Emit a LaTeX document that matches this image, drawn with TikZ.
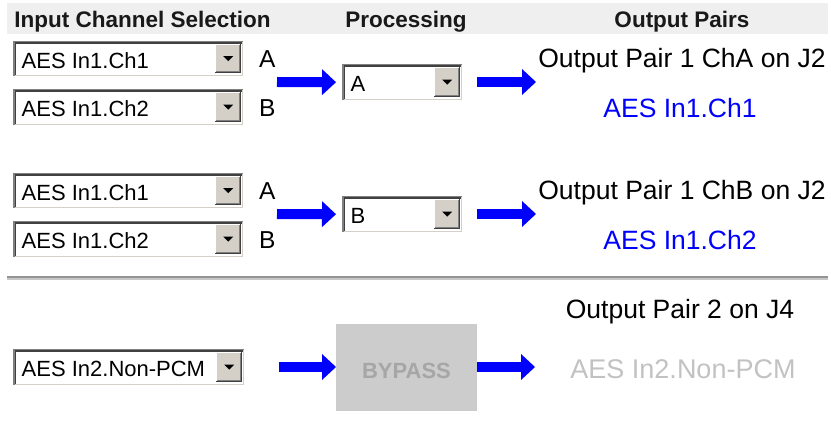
\documentclass[tikz,border=0pt]{standalone}
\usepackage{fontspec}
\setmainfont{Liberation Sans}
\usetikzlibrary{arrows.meta,calc}

\definecolor{hdrfill}{HTML}{EFEFEF}
\definecolor{btnface}{HTML}{D4D0C8}
\definecolor{framedark}{HTML}{404040}
\definecolor{framemid}{HTML}{808080}
\definecolor{flowblue}{HTML}{0000FF}
\definecolor{bypassfill}{HTML}{CCCCCC}
\definecolor{bypasstext}{HTML}{A6A6A6}
\definecolor{dimtext}{HTML}{C2C2C2}

% combo box: name, left, top, width, height, text
\newcommand\combobox[6]{%
  \node[combobody, minimum width=#4pt, minimum height=#5pt, anchor=north west] (#1) at (#2,#3) {};
  % sunken frame
  \draw[framemid, line width=1.5pt] ($(#1.south west)+(0.75,0)$) -- ($(#1.north west)+(0.75,0.75)$) -- ($(#1.north east)+(0,0.75)$);
  \draw[framedark, line width=1.5pt] ($(#1.south west)+(2.25,-1.5)$) -- ($(#1.north west)+(2.25,2.25)$) -- ($(#1.north east)+(-1.5,2.25)$);
  \draw[btnface, line width=1.5pt] ($(#1.south west)+(1.5,-0.75)$) -- ($(#1.south east)+(-0.75,-0.75)$) -- ($(#1.north east)+(-0.75,1.5)$);
  % drop-down button
  \node[combobtn, minimum width=26pt, minimum height={#5pt-6pt}, anchor=north east] (#1btn) at ($(#1.north east)+(-2,3)$) {};
  \draw[white, line width=1pt] ($(#1btn.south west)+(0.5,-1)$) -- ($(#1btn.north west)+(0.5,0.5)$) -- ($(#1btn.north east)+(-1,0.5)$);
  \draw[framedark, line width=1.2pt] ($(#1btn.south west)+(0,-0.6)$) -- ($(#1btn.south east)+(-0.6,-0.6)$) -- ($(#1btn.north east)+(-0.6,0)$);
  \draw[framemid, line width=1pt] ($(#1btn.south west)+(1,-1.7)$) -- ($(#1btn.south east)+(-1.7,-1.7)$) -- ($(#1btn.north east)+(-1.7,1)$);
  \fill[black] ($(#1btn.center)+(-5,-2.5)$) -- ($(#1btn.center)+(5,-2.5)$) -- ($(#1btn.center)+(0,2.5)$) -- cycle;
  \node[combotext, anchor=base west] (#1txt) at ($(#1.north west)+(8.5,27.5)$) {#6};
}

\begin{document}
\begin{tikzpicture}[x=1pt, y=-1pt,
  combobody/.style={draw=none, fill=white, inner sep=0pt},
  combobtn/.style={draw=none, fill=btnface, inner sep=0pt},
  combotext/.style={inner sep=0pt, font=\fontsize{22}{26}\selectfont},
  hdrtext/.style={inner sep=0pt, anchor=base, text=black!90, font=\bfseries\fontsize{22.5}{26}\selectfont},
  chlabel/.style={inner sep=0pt, anchor=base west, font=\fontsize{24.5}{28}\selectfont},
  outtitle/.style={inner sep=0pt, anchor=base, font=\fontsize{26.5}{30}\selectfont},
  outsource/.style={inner sep=0pt, anchor=base, text=flowblue, font=\fontsize{26.5}{30}\selectfont},
  flow/.style={flowblue, line width=10pt, -{Triangle[length=14pt, width=26pt, line width=0pt]}}
]
\useasboundingbox (0,0) rectangle (831,422);
\fill[white] (0,0) rectangle (831,422);

% column headings
\fill[hdrfill] (7,3) rectangle (828,34);
\node[hdrtext] (hin) at (142.5,28) {Input Channel Selection};
\node[hdrtext] (hproc) at (406,28) {Processing};
\node[hdrtext] (hout) at (682,28) {Output Pairs};

% ---- Output pair 1, channel A ----
\combobox{inA1}{13}{41}{230}{35}{AES In1.Ch1}
\combobox{inB1}{13}{89}{230}{36}{AES In1.Ch2}
\node[chlabel] (labA1) at (259,68) {A};
\node[chlabel] (labB1) at (259,117) {B};
\combobox{proc1}{342}{64}{120}{36}{A}
\coordinate (s1) at (277,82);
\draw[flow] (s1) -- (proc1.west -| 336,0);
\coordinate (s2) at (477,82);
\coordinate (e2) at (536,82);
\draw[flow] (s2) -- (e2);
\node[outtitle] (out1) at (682,68) {Output Pair 1 ChA on J2};
\node[outsource] (src1) at (680,118) {AES In1.Ch1};

% ---- Output pair 1, channel B ----
\combobox{inA2}{13}{173}{230}{35}{AES In1.Ch1}
\combobox{inB2}{13}{221}{230}{36}{AES In1.Ch2}
\node[chlabel] (labA2) at (259,200) {A};
\node[chlabel] (labB2) at (259,249) {B};
\combobox{proc2}{342}{196}{120}{36}{B}
\coordinate (s3) at (277,214);
\draw[flow] (s3) -- (proc2.west -| 336,0);
\coordinate (s4) at (477,214);
\coordinate (e4) at (536,214);
\draw[flow] (s4) -- (e4);
\node[outtitle] (out2) at (682,200) {Output Pair 1 ChB on J2};
\node[outsource] (src2) at (680,250) {AES In1.Ch2};

% separator
\fill[black!42] (7,276.5) rectangle (828,278.5);
\fill[black!22] (7,278.5) rectangle (828,280);

% ---- Output pair 2 (bypass) ----
\node[outtitle] (out3) at (680,319) {Output Pair 2 on J4};
\combobox{in3}{13}{349}{231}{36}{AES In2.Non-PCM}
\node[fill=bypassfill, inner sep=0pt, minimum width=141pt, minimum height=87pt, anchor=north west] (bypass) at (336,324) {};
\node[inner sep=0pt, anchor=base, text=bypasstext, font=\bfseries\fontsize{22}{26}\selectfont] (bypasstxt) at (406.5,378) {BYPASS};
\coordinate (s5) at (279,367);
\draw[flow] (s5) -- (bypass.west |- s5);
\coordinate (e6) at (535,367);
\draw[flow] (bypass.east |- e6) -- (e6);
\node[outsource, text=dimtext, font=\fontsize{27}{30}\selectfont] (src3) at (683,378) {AES In2.Non-PCM};
\end{tikzpicture}
\end{document}
